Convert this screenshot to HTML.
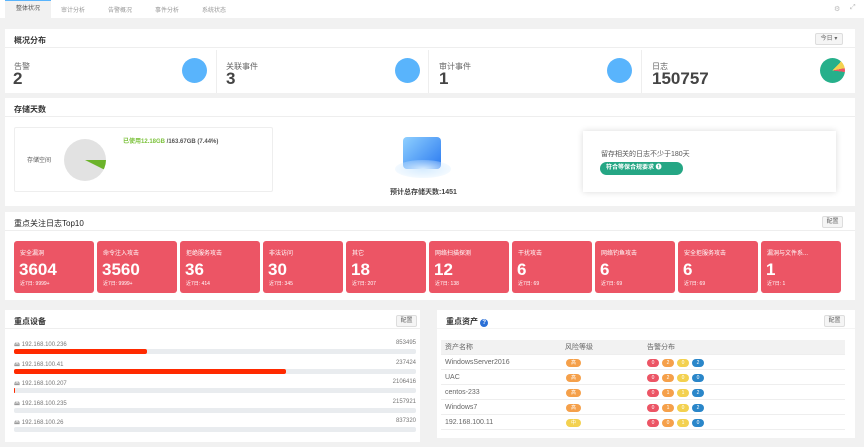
<!DOCTYPE html>
<html><head><meta charset="utf-8"><style>
*{box-sizing:border-box;margin:0;padding:0}
body{width:864px;height:447px;overflow:hidden;background:#f1f1f1;font-family:"Liberation Sans","Noto Sans CJK SC",sans-serif;color:#333;position:relative}
.a{position:absolute}
.panel{position:absolute;background:#fff}
.hd{position:absolute;left:0;right:0;top:0;height:19px;border-bottom:1px solid #eee;font-size:8px;font-weight:bold;padding:6px 0 0 9px;color:#333}
.btn{position:absolute;border:1px solid #ddd;background:#f5f5f5;border-radius:2px;font-size:6px;color:#666;text-align:center;line-height:11px;height:12px}
.card{position:absolute;top:241px;width:80px;height:52px;background:#ec5565;border-radius:3px;color:#fff}
.card .t{position:absolute;left:6px;top:7px;font-size:6px}
.card .n{position:absolute;left:5px;top:19px;font-size:17px;font-weight:bold}
.card .s{position:absolute;left:6px;top:39px;font-size:5px}
.stat .l{position:absolute;font-size:8px;color:#666}
.stat .v{position:absolute;font-size:17px;font-weight:bold;color:#444}
.circ{position:absolute;width:25px;height:25px;border-radius:50%;background:#59b4fc}
.dev{position:absolute;left:14px;width:402px;font-size:6px;color:#777}
.dev .bar{position:absolute;left:0;top:9px;width:402px;height:5px;background:#e9ecef;border-radius:2px}
.dev .fill{position:absolute;left:0;top:0;height:5px;background:#ff2a00;border-radius:2px}
.row{position:absolute;left:441px;width:404px;height:15px;border-bottom:1px solid #eee;font-size:7px;color:#666;line-height:15px}
.pill{position:absolute;top:4px;width:12px;height:8px;border-radius:4px;font-size:5px;color:#fff;text-align:center;line-height:8px}
</style></head><body>
<div class="a" style="left:0;top:0;width:864px;height:18px;background:#fff"></div>
<div class="a" style="left:5px;top:0;width:46px;height:18px;background:#f1f1f1;border-top:1px solid #59b4fc;font-size:6px;color:#555;text-align:center;line-height:17px">整体状况</div>
<div class="a" style="left:61px;top:5px;font-size:6px;color:#999">审计分析</div>
<div class="a" style="left:108px;top:5px;font-size:6px;color:#999">告警概况</div>
<div class="a" style="left:155px;top:5px;font-size:6px;color:#999">事件分析</div>
<div class="a" style="left:202px;top:5px;font-size:6px;color:#999">系统状态</div>
<div class="a" style="left:834px;top:5px;font-size:7px;color:#bbb">⚙</div>
<div class="a" style="left:850px;top:4px;font-size:7px;color:#bbb">⤢</div>
<div class="a" style="left:856px;top:18px;width:8px;height:429px;background:#f1f1f1"></div>

<div class="panel" style="left:5px;top:29px;width:850px;height:64px">
 <div class="hd">概况分布</div>
 <div class="btn" style="left:810px;top:4px;width:28px">今日 ▾</div>
</div>
<div class="a" style="left:216px;top:50px;width:1px;height:43px;background:#eee"></div>
<div class="a" style="left:428px;top:50px;width:1px;height:43px;background:#eee"></div>
<div class="a" style="left:641px;top:50px;width:1px;height:43px;background:#eee"></div>
<div class="stat">
 <div class="l" style="left:14px;top:61px">告警</div><div class="v" style="left:13px;top:69px">2</div>
 <div class="circ" style="left:182px;top:58px"></div>
 <div class="l" style="left:226px;top:61px">关联事件</div><div class="v" style="left:226px;top:69px">3</div>
 <div class="circ" style="left:395px;top:58px"></div>
 <div class="l" style="left:439px;top:61px">审计事件</div><div class="v" style="left:439px;top:69px">1</div>
 <div class="circ" style="left:607px;top:58px"></div>
 <div class="l" style="left:652px;top:61px">日志</div><div class="v" style="left:652px;top:69px">150757</div>
 <div class="a" style="left:820px;top:58px;width:25px;height:25px;border-radius:50%;background:conic-gradient(#26b08b 0 12%,#f3d14f 12% 22%,#ec5565 22% 27%,#26b08b 27%)"></div>
</div>

<div class="panel" style="left:5px;top:98px;width:850px;height:108px">
 <div class="hd">存储天数</div>
</div>
<div class="a" style="left:14px;top:127px;width:259px;height:65px;border:1px solid #eee;border-radius:2px"></div>
<div class="a" style="left:27px;top:155px;font-size:6px;color:#555">存储空间</div>
<div class="a" style="left:64px;top:139px;width:42px;height:42px;border-radius:50%;background:conic-gradient(#e2e2e2 0 25%,#6cb32b 25% 32.4%,#e2e2e2 32.4%)"></div>
<div class="a" style="left:123px;top:136px;font-size:6px;color:#555;font-weight:bold"><span style="color:#7cc23c">已使用12.18GB</span> /163.67GB (7.44%)</div>
<div class="a" style="left:403px;top:137px;width:38px;height:32px;border-radius:4px;background:linear-gradient(135deg,#8fd0ff,#2a79f0)"></div>
<div class="a" style="left:395px;top:160px;width:56px;height:18px;border-radius:50%;background:radial-gradient(#d6ecff,rgba(255,255,255,0))"></div>
<div class="a" style="left:390px;top:187px;font-size:7px;color:#444;font-weight:bold">预计总存储天数:1451</div>
<div class="a" style="left:583px;top:131px;width:253px;height:61px;background:#fff;box-shadow:0 0 6px rgba(0,0,0,.15)"></div>
<div class="a" style="left:601px;top:149px;font-size:7px;color:#555">留存相关的日志不少于180天</div>
<div class="a" style="left:600px;top:162px;width:83px;height:13px;border-radius:7px;background:#25a684;color:#fff;font-size:6px;font-weight:bold;line-height:13px;padding-left:6px">符合等保合规要求 ❶</div>

<div class="panel" style="left:5px;top:212px;width:850px;height:88px">
 <div class="hd" style="font-weight:normal;color:#222">重点关注日志Top10</div>
 <div class="btn" style="left:817px;top:4px;width:21px">配置</div>
</div>
<div class="card" style="left:14px"><div class="t">安全漏洞</div><div class="n">3604</div><div class="s">近7日: 9999+</div></div>
<div class="card" style="left:97px"><div class="t">命令注入攻击</div><div class="n">3560</div><div class="s">近7日: 9999+</div></div>
<div class="card" style="left:180px"><div class="t">拒绝服务攻击</div><div class="n">36</div><div class="s">近7日: 414</div></div>
<div class="card" style="left:263px"><div class="t">非法访问</div><div class="n">30</div><div class="s">近7日: 345</div></div>
<div class="card" style="left:346px"><div class="t">其它</div><div class="n">18</div><div class="s">近7日: 207</div></div>
<div class="card" style="left:429px"><div class="t">网络扫描探测</div><div class="n">12</div><div class="s">近7日: 138</div></div>
<div class="card" style="left:512px"><div class="t">干扰攻击</div><div class="n">6</div><div class="s">近7日: 69</div></div>
<div class="card" style="left:595px"><div class="t">网络钓鱼攻击</div><div class="n">6</div><div class="s">近7日: 69</div></div>
<div class="card" style="left:678px"><div class="t">安全拒服务攻击</div><div class="n">6</div><div class="s">近7日: 69</div></div>
<div class="card" style="left:761px"><div class="t">漏洞与文件系...</div><div class="n">1</div><div class="s">近7日: 1</div></div>

<div class="panel" style="left:5px;top:310px;width:415px;height:132px">
 <div class="hd">重点设备</div>
 <div class="btn" style="left:391px;top:5px;width:21px">配置</div>
</div>
<div class="dev" style="top:340px"><span style="color:#999">🖴</span> 192.168.100.236<span style="position:absolute;right:0">853495</span><div class="bar"><div class="fill" style="width:133px"></div></div></div>
<div class="dev" style="top:360px"><span style="color:#999">🖴</span> 192.168.100.41<span style="position:absolute;right:0">237424</span><div class="bar"><div class="fill" style="width:272px"></div></div></div>
<div class="dev" style="top:379px"><span style="color:#999">🖴</span> 192.168.100.207<span style="position:absolute;right:0">2106416</span><div class="bar"><div class="fill" style="width:1px"></div></div></div>
<div class="dev" style="top:399px"><span style="color:#999">🖴</span> 192.168.100.235<span style="position:absolute;right:0">2157921</span><div class="bar"></div></div>
<div class="dev" style="top:418px"><span style="color:#999">🖴</span> 192.168.100.26<span style="position:absolute;right:0">837320</span><div class="bar"></div></div>

<div class="panel" style="left:437px;top:310px;width:418px;height:128px">
 <div class="hd" style="border-bottom-color:#f4f4f4">重点资产 <span style="display:inline-block;width:8px;height:8px;border-radius:50%;background:#2a6fd6;color:#fff;font-size:6px;text-align:center;line-height:8px">?</span></div>
 <div class="btn" style="left:387px;top:5px;width:21px">配置</div>
</div>
<div class="row" style="top:340px;background:#f2f2f2"><span style="position:absolute;left:4px">资产名称</span><span style="position:absolute;left:124px">风险等级</span><span style="position:absolute;left:206px">告警分布</span></div>
<div class="row" style="top:355px"><span style="position:absolute;left:4px">WindowsServer2016</span><div class="pill" style="left:125px;width:15px;background:#f5a04a">高</div><div class="pill" style="left:206px;background:#ec5565">0</div><div class="pill" style="left:221px;background:#f5a04a">2</div><div class="pill" style="left:236px;background:#f3d14f">0</div><div class="pill" style="left:251px;background:#2a86c9">2</div></div>
<div class="row" style="top:370px"><span style="position:absolute;left:4px">UAC</span><div class="pill" style="left:125px;width:15px;background:#f5a04a">高</div><div class="pill" style="left:206px;background:#ec5565">0</div><div class="pill" style="left:221px;background:#f5a04a">2</div><div class="pill" style="left:236px;background:#f3d14f">0</div><div class="pill" style="left:251px;background:#2a86c9">0</div></div>
<div class="row" style="top:385px"><span style="position:absolute;left:4px">centos-233</span><div class="pill" style="left:125px;width:15px;background:#f5a04a">高</div><div class="pill" style="left:206px;background:#ec5565">0</div><div class="pill" style="left:221px;background:#f5a04a">1</div><div class="pill" style="left:236px;background:#f3d14f">1</div><div class="pill" style="left:251px;background:#2a86c9">2</div></div>
<div class="row" style="top:400px"><span style="position:absolute;left:4px">Windows7</span><div class="pill" style="left:125px;width:15px;background:#f5a04a">高</div><div class="pill" style="left:206px;background:#ec5565">0</div><div class="pill" style="left:221px;background:#f5a04a">1</div><div class="pill" style="left:236px;background:#f3d14f">0</div><div class="pill" style="left:251px;background:#2a86c9">2</div></div>
<div class="row" style="top:415px"><span style="position:absolute;left:4px">192.168.100.11</span><div class="pill" style="left:125px;width:15px;background:#f3d14f">中</div><div class="pill" style="left:206px;background:#ec5565">0</div><div class="pill" style="left:221px;background:#f5a04a">0</div><div class="pill" style="left:236px;background:#f3d14f">1</div><div class="pill" style="left:251px;background:#2a86c9">0</div></div>
</body></html>
